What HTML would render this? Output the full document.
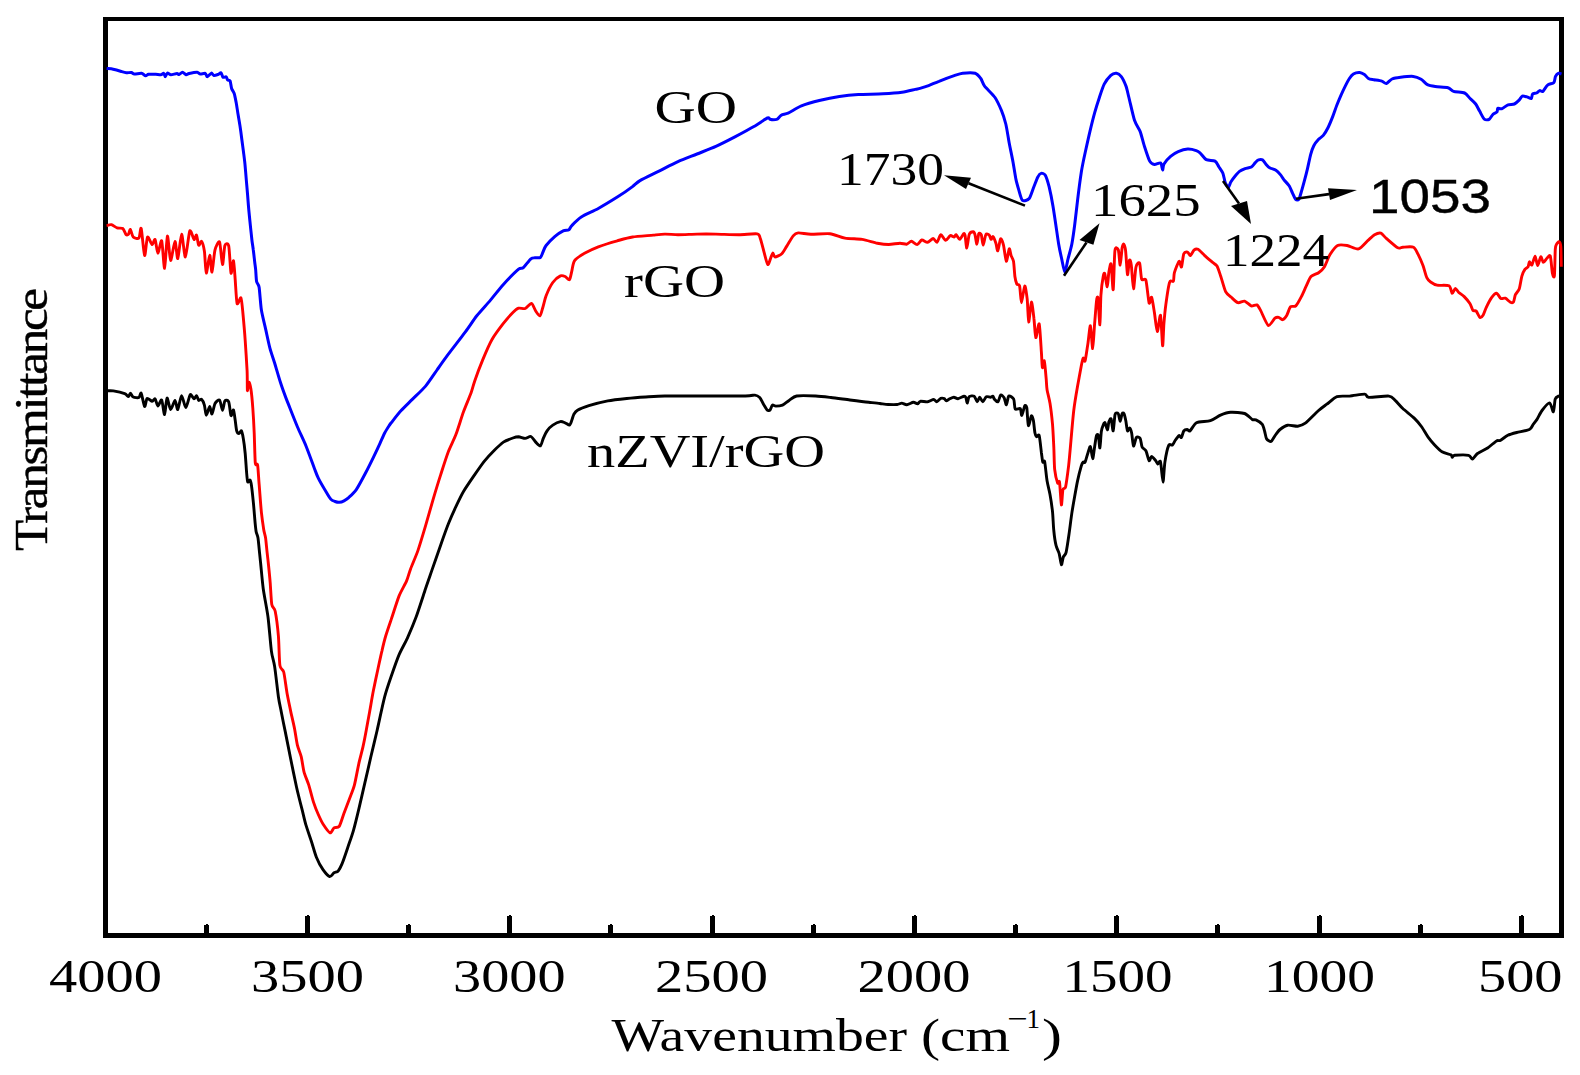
<!DOCTYPE html>
<html lang="en"><head><meta charset="utf-8"><title>FTIR spectra</title>
<style>html,body{margin:0;padding:0;background:#fff}svg{display:block}text{font-family:"Liberation Serif",serif;fill:#000}.s{font-family:"Liberation Sans",sans-serif}</style></head><body>
<svg width="1580" height="1075" viewBox="0 0 1580 1075">
<rect width="1580" height="1075" fill="#fff"/>
<g shape-rendering="crispEdges" fill="#000">
<rect x="103" y="17" width="1461" height="4"/>
<rect x="103" y="933" width="1461" height="5"/>
<rect x="103" y="17" width="5" height="921"/>
<rect x="1559" y="17" width="5" height="921"/>
<rect x="305" y="916" width="5" height="18"/><rect x="306.5" y="915" width="2" height="1"/>
<rect x="507" y="916" width="5" height="18"/><rect x="508.5" y="915" width="2" height="1"/>
<rect x="710" y="916" width="5" height="18"/><rect x="711.5" y="915" width="2" height="1"/>
<rect x="912" y="916" width="5" height="18"/><rect x="913.5" y="915" width="2" height="1"/>
<rect x="1114" y="916" width="5" height="18"/><rect x="1115.5" y="915" width="2" height="1"/>
<rect x="1317" y="916" width="5" height="18"/><rect x="1318.5" y="915" width="2" height="1"/>
<rect x="1519" y="916" width="5" height="18"/><rect x="1520.5" y="915" width="2" height="1"/>
<rect x="204" y="925" width="5" height="9"/><rect x="205.5" y="924" width="2" height="1"/>
<rect x="406" y="925" width="5" height="9"/><rect x="407.5" y="924" width="2" height="1"/>
<rect x="608" y="925" width="5" height="9"/><rect x="609.5" y="924" width="2" height="1"/>
<rect x="811" y="925" width="5" height="9"/><rect x="812.5" y="924" width="2" height="1"/>
<rect x="1013" y="925" width="5" height="9"/><rect x="1014.5" y="924" width="2" height="1"/>
<rect x="1215" y="925" width="5" height="9"/><rect x="1216.5" y="924" width="2" height="1"/>
<rect x="1418" y="925" width="5" height="9"/><rect x="1419.5" y="924" width="2" height="1"/>
</g>
<path d="M106.6,390.8C107.4,390.8 111.0,390.5 113.3,390.9C115.6,391.3 122.8,393.0 124.7,393.7C126.6,394.4 127.8,396.7 128.5,396.6C129.2,396.5 129.8,393.1 130.4,393.2C131.0,393.2 132.1,396.5 133.2,397.0C134.3,397.5 137.9,398.0 138.9,397.5C139.9,397.0 140.5,392.1 141.2,393.2C141.9,394.3 143.9,405.8 144.6,406.5C145.3,407.2 146.2,399.1 147.1,398.5C148.0,397.9 151.2,401.2 152.2,401.3C153.2,401.4 154.4,398.3 155.1,398.9C155.8,399.5 157.1,406.0 157.9,406.1C158.7,406.2 160.9,398.9 161.7,400.0C162.5,401.1 163.9,414.8 164.6,414.6C165.3,414.4 166.2,398.7 167.0,398.1C167.8,397.5 169.6,409.2 170.6,409.5C171.6,409.8 174.1,400.4 175.0,400.4C175.9,400.4 177.0,410.1 177.8,409.5C178.6,408.9 180.6,395.8 181.6,395.6C182.6,395.4 184.7,407.7 185.8,407.6C186.9,407.5 189.2,395.8 190.2,394.7C191.2,393.6 193.2,398.8 194.0,398.9C194.8,399.0 195.9,395.4 196.5,395.6C197.1,395.8 198.1,399.9 198.7,400.4C199.3,400.9 200.9,398.8 201.6,399.4C202.3,400.0 203.8,403.1 204.4,405.1C205.0,407.1 205.6,415.0 206.3,415.2C207.0,415.4 209.0,406.6 209.7,406.5C210.4,406.4 211.3,414.3 212.0,414.0C212.7,413.7 214.0,405.6 214.9,403.8C215.8,402.1 218.7,399.2 219.6,400.0C220.5,400.8 221.8,410.2 222.5,410.3C223.2,410.4 224.1,401.9 224.9,400.8C225.7,399.8 227.9,400.0 228.7,401.9C229.5,403.8 230.4,414.6 231.0,415.6C231.6,416.6 233.0,409.3 233.5,409.9C234.0,410.5 234.8,417.7 235.2,420.3C235.6,422.9 236.2,429.1 236.7,430.8C237.2,432.5 238.4,433.6 239.0,433.6C239.6,433.6 240.9,430.2 241.4,430.8C241.9,431.4 242.8,435.6 243.3,438.4C243.8,441.2 244.8,449.2 245.2,453.5C245.6,457.8 246.3,468.9 246.6,472.5C246.9,476.1 247.3,481.1 247.7,482.0C248.1,482.9 249.5,479.6 250.0,480.1C250.5,480.6 251.1,483.0 251.5,485.8C251.9,488.6 253.0,498.9 253.4,502.9C253.8,506.9 254.4,514.5 254.7,518.1C255.0,521.7 255.7,528.9 256.1,531.4C256.5,533.9 257.6,535.4 258.0,538.0C258.4,540.6 259.2,549.3 259.5,552.3C259.8,555.3 260.0,557.5 260.5,562.0C261.0,566.5 262.3,581.6 263.2,588.5C264.1,595.4 267.0,609.2 268.0,617.0C269.0,624.8 270.6,644.9 271.4,651.1C272.2,657.3 273.7,660.6 274.6,666.3C275.5,672.0 277.6,691.0 278.4,696.7C279.2,702.4 280.5,707.6 281.3,711.9C282.1,716.2 283.9,725.1 285.1,730.9C286.3,736.7 289.2,751.5 290.6,758.5C292.0,765.5 295.1,780.6 296.5,787.0C297.9,793.4 300.9,805.0 302.1,809.7C303.3,814.4 304.7,820.9 305.9,824.9C307.1,828.9 310.3,838.0 311.6,842.0C312.9,846.0 315.0,853.8 316.4,857.2C317.8,860.7 321.3,867.2 323.0,869.6C324.7,872.0 328.3,876.2 329.7,876.6C331.1,877.0 332.9,873.5 334.0,872.8C335.1,872.1 337.2,872.0 338.2,870.9C339.2,869.8 340.8,866.8 342.0,863.9C343.2,861.0 346.3,851.9 347.7,847.7C349.1,843.5 352.0,835.6 353.4,830.6C354.8,825.6 357.7,813.7 359.1,807.8C360.5,801.9 363.3,789.6 364.8,783.2C366.3,776.9 369.3,763.6 370.8,757.0C372.3,750.4 375.4,738.0 377.1,730.5C378.8,723.0 382.9,703.5 384.7,696.7C386.5,689.9 389.6,681.0 391.4,675.8C393.2,670.6 397.0,659.6 399.0,654.9C401.0,650.1 405.4,642.5 407.5,637.8C409.6,633.1 413.8,623.2 416.1,617.0C418.4,610.8 423.6,594.5 425.6,588.5C427.6,582.5 430.3,574.9 432.2,569.4C434.1,563.9 438.8,550.4 440.8,544.7C442.8,539.0 446.5,528.5 448.4,523.8C450.3,519.0 454.0,510.7 455.9,506.7C457.8,502.7 461.1,495.5 463.5,491.5C465.9,487.5 472.3,478.2 474.9,474.4C477.5,470.6 482.0,464.1 484.4,461.1C486.8,458.1 491.5,453.1 493.9,450.7C496.3,448.3 501.0,443.7 503.4,442.1C505.8,440.5 511.0,438.7 512.9,438.0C514.8,437.3 517.1,436.8 518.6,436.8C520.1,436.9 523.7,438.4 525.2,438.4C526.7,438.4 529.6,436.0 530.9,436.5C532.2,437.0 534.5,440.9 535.7,442.1C536.9,443.3 539.5,446.4 540.4,445.9C541.3,445.4 542.5,440.3 543.3,438.4C544.1,436.5 545.9,432.5 547.1,430.8C548.3,429.1 551.1,426.2 552.8,425.1C554.5,424.0 558.9,421.9 560.4,421.6C561.9,421.3 564.0,422.4 565.1,422.8C566.2,423.2 568.7,425.4 569.5,425.1C570.3,424.8 571.3,421.6 571.8,420.3C572.3,419.0 573.0,415.9 573.7,414.6C574.4,413.4 575.6,411.4 577.5,410.3C579.4,409.2 585.1,406.9 588.9,405.7C592.7,404.5 603.1,401.8 607.8,400.9C612.5,400.0 622.0,399.0 626.8,398.5C631.5,398.0 641.0,397.3 645.8,397.0C650.5,396.7 658.3,396.1 664.8,396.0C671.3,395.9 687.9,396.0 698.0,396.0C708.1,396.0 738.3,396.1 745.4,396.0C752.5,395.9 753.1,394.9 754.9,395.1C756.7,395.3 758.6,396.4 759.7,397.5C760.8,398.6 762.5,402.6 763.5,404.2C764.5,405.8 766.5,409.5 767.3,410.2C768.1,410.9 769.5,410.5 770.1,409.9C770.7,409.3 771.7,405.6 772.4,405.1C773.1,404.6 774.5,406.1 775.8,406.1C777.1,406.1 780.8,405.8 782.5,405.1C784.2,404.4 787.3,401.5 789.1,400.4C790.9,399.3 793.4,396.6 796.7,396.0C800.0,395.4 811.4,395.8 815.7,396.0C820.0,396.2 826.6,397.0 830.9,397.5C835.2,398.0 845.2,399.4 849.9,400.0C854.6,400.6 865.0,401.9 868.8,402.3C872.6,402.7 877.6,403.2 880.0,403.5C882.4,403.8 886.0,404.4 888.1,404.5C890.2,404.6 895.5,404.7 897.2,404.5C898.9,404.3 900.6,403.1 901.8,403.1C903.0,403.1 905.3,404.9 906.8,404.8C908.2,404.7 912.1,402.4 913.4,402.3C914.7,402.2 916.6,403.9 917.5,403.8C918.4,403.7 919.2,401.6 920.5,401.3C921.8,401.1 926.0,402.0 927.6,401.8C929.2,401.6 932.6,399.4 933.7,399.4C934.8,399.4 935.8,401.9 936.7,401.8C937.6,401.7 939.8,398.8 940.8,398.4C941.8,398.0 943.6,398.4 944.3,398.7C945.0,399.0 945.6,400.8 946.3,400.8C947.0,400.8 948.9,399.1 949.9,398.7C950.9,398.2 952.9,397.2 953.9,397.2C954.9,397.2 956.7,398.8 958.0,398.7C959.3,398.6 963.1,396.3 964.1,396.2C965.1,396.1 965.5,396.8 965.9,397.7C966.3,398.6 966.9,403.2 967.3,403.1C967.7,403.0 968.2,397.6 969.1,396.7C970.0,395.8 973.2,395.6 974.2,396.2C975.2,396.8 976.5,401.7 977.2,401.8C977.9,401.9 979.0,397.2 979.7,397.2C980.4,397.2 982.0,401.9 982.8,401.8C983.6,401.7 985.3,397.3 986.3,396.7C987.2,396.1 989.6,397.3 990.4,397.2C991.2,397.1 992.4,395.9 992.9,396.2C993.4,396.4 993.8,398.5 994.4,399.2C995.0,399.9 997.2,402.3 998.0,401.8C998.8,401.3 999.9,395.5 1000.7,395.0C1001.5,394.5 1003.4,396.5 1004.1,397.7C1004.8,398.9 1005.8,405.0 1006.4,404.8C1007.0,404.6 1007.9,396.7 1008.8,396.0C1009.7,395.3 1012.9,397.6 1013.7,399.2C1014.5,400.8 1014.4,407.7 1015.2,408.9C1016.0,410.1 1019.5,407.8 1020.3,408.6C1021.1,409.4 1021.2,415.8 1021.8,415.4C1022.4,415.0 1024.2,406.8 1024.8,405.8C1025.4,404.9 1026.3,405.3 1026.8,407.8C1027.2,410.3 1027.8,424.6 1028.4,425.6C1029.0,426.6 1030.8,416.5 1031.4,415.9C1032.0,415.3 1033.0,418.4 1033.4,420.5C1033.8,422.6 1034.5,430.7 1034.9,432.7C1035.3,434.7 1036.0,436.3 1036.5,436.7C1037.0,437.1 1038.6,433.6 1039.2,435.6C1039.8,437.6 1041.0,449.4 1041.4,452.7C1041.9,456.0 1042.4,461.0 1042.8,462.1C1043.2,463.2 1044.2,459.4 1044.7,461.8C1045.2,464.2 1046.4,477.0 1047.1,481.1C1047.8,485.2 1049.3,490.6 1050.0,494.4C1050.7,498.2 1052.0,507.0 1052.5,511.5C1053.0,516.0 1053.3,526.2 1053.8,530.5C1054.2,534.8 1055.4,542.9 1056.1,545.7C1056.8,548.6 1058.4,550.9 1059.1,553.3C1059.8,555.7 1060.9,564.2 1061.4,564.7C1061.9,565.2 1062.7,558.7 1063.3,557.1C1063.9,555.5 1065.4,555.1 1066.1,552.3C1066.8,549.4 1068.3,539.2 1069.0,534.3C1069.7,529.4 1071.1,518.1 1071.8,513.4C1072.5,508.6 1074.0,500.3 1074.7,496.3C1075.4,492.3 1076.7,484.9 1077.5,481.1C1078.3,477.3 1080.6,468.3 1081.3,465.9C1082.0,463.5 1082.7,462.6 1083.2,462.1C1083.7,461.6 1084.5,463.3 1085.1,462.1C1085.7,460.9 1087.3,454.6 1088.0,452.7C1088.7,450.8 1089.8,445.9 1090.4,446.6C1091.0,447.4 1092.2,458.6 1092.7,458.7C1093.2,458.8 1094.1,449.9 1094.6,447.0C1095.1,444.1 1096.0,437.0 1096.5,435.6C1097.0,434.2 1098.0,434.1 1098.4,435.6C1098.8,437.1 1099.5,448.4 1099.9,447.9C1100.3,447.4 1100.9,434.6 1101.3,431.8C1101.7,429.0 1102.7,426.2 1103.2,425.1C1103.7,424.0 1104.5,422.1 1105.0,422.7C1105.5,423.3 1107.0,429.9 1107.5,429.9C1108.0,429.8 1108.3,423.7 1108.8,422.3C1109.2,420.9 1110.5,417.8 1111.1,418.9C1111.6,420.0 1112.7,431.4 1113.2,430.8C1113.7,430.2 1114.5,416.4 1115.1,414.3C1115.7,412.2 1117.7,412.8 1118.3,413.7C1118.9,414.6 1119.7,421.3 1120.2,421.3C1120.7,421.3 1121.6,414.6 1122.1,413.7C1122.6,412.8 1123.5,412.8 1124.0,413.7C1124.5,414.6 1125.5,419.2 1125.9,421.3C1126.3,423.4 1127.0,430.0 1127.5,430.8C1128.0,431.6 1129.2,427.8 1129.7,428.0C1130.2,428.2 1131.1,430.4 1131.6,432.7C1132.1,434.9 1132.9,445.4 1133.5,446.0C1134.1,446.6 1135.6,438.4 1136.4,437.5C1137.2,436.6 1139.5,437.2 1140.2,438.4C1140.9,439.6 1141.4,445.4 1142.1,447.0C1142.8,448.6 1145.0,449.1 1145.9,450.8C1146.8,452.5 1148.4,459.9 1149.1,460.6C1149.8,461.3 1150.8,456.5 1151.6,456.5C1152.4,456.5 1154.6,459.4 1155.4,460.3C1156.2,461.2 1157.2,463.8 1157.8,464.0C1158.4,464.2 1159.8,459.5 1160.5,461.8C1161.2,464.1 1162.5,482.1 1163.0,482.1C1163.5,482.1 1164.2,466.7 1164.9,462.1C1165.6,457.5 1167.8,447.5 1168.7,445.4C1169.6,443.3 1171.6,445.7 1172.4,445.1C1173.2,444.5 1174.5,441.5 1175.3,440.3C1176.1,439.1 1178.3,436.0 1179.1,435.6C1179.9,435.2 1180.8,438.1 1181.4,437.5C1182.0,436.9 1183.1,431.8 1183.8,430.8C1184.5,429.8 1186.3,429.5 1187.1,429.5C1187.9,429.5 1188.9,431.7 1190.1,430.8C1191.3,429.9 1194.0,424.0 1196.5,422.7C1199.0,421.4 1207.4,421.6 1210.4,420.6C1213.4,419.7 1218.0,416.1 1220.5,415.1C1223.0,414.1 1227.6,412.5 1230.6,412.3C1233.6,412.1 1241.9,412.6 1244.6,413.5C1247.3,414.4 1250.8,418.6 1252.2,419.4C1253.6,420.2 1254.6,419.3 1255.9,419.9C1257.2,420.5 1261.2,422.9 1262.3,424.4C1263.4,425.9 1264.3,430.2 1264.8,432.0C1265.3,433.8 1265.8,437.7 1266.6,438.9C1267.4,440.1 1270.1,441.8 1271.1,441.4C1272.1,441.0 1273.8,437.3 1274.9,435.8C1276.0,434.3 1278.4,430.8 1280.0,429.5C1281.6,428.2 1285.4,425.6 1287.6,425.2C1289.8,424.8 1295.5,426.4 1297.7,426.2C1299.9,425.9 1302.8,425.1 1305.3,423.2C1307.8,421.3 1315.3,413.4 1318.0,411.0C1320.7,408.6 1324.4,406.0 1326.8,404.2C1329.2,402.4 1334.2,397.6 1337.0,396.6C1339.8,395.6 1346.1,396.4 1349.6,396.1C1353.1,395.8 1362.4,394.0 1364.8,394.1C1367.2,394.2 1365.6,397.1 1368.6,397.3C1371.6,397.6 1385.6,395.7 1388.9,396.1C1392.2,396.5 1393.5,398.8 1395.2,400.4C1396.9,401.9 1400.4,406.3 1402.8,408.5C1405.2,410.7 1411.8,415.8 1414.2,418.1C1416.6,420.4 1420.1,424.6 1421.8,427.0C1423.5,429.4 1426.5,434.9 1428.1,437.1C1429.7,439.3 1432.7,442.9 1434.4,444.7C1436.1,446.5 1439.9,450.5 1442.0,451.8C1444.1,453.1 1449.6,454.1 1450.9,454.8C1452.2,455.5 1451.7,457.2 1452.2,457.3C1452.7,457.4 1452.7,455.6 1454.7,455.3C1456.8,455.1 1466.4,454.8 1468.6,455.3C1470.8,455.8 1471.3,459.3 1472.4,459.1C1473.5,458.9 1475.6,454.9 1477.5,453.5C1479.4,452.1 1485.2,449.6 1487.6,448.0C1490.0,446.4 1494.9,441.8 1496.5,440.9C1498.1,439.9 1498.9,441.1 1500.3,440.4C1501.7,439.7 1505.8,436.3 1507.8,435.3C1509.8,434.3 1514.0,433.2 1516.7,432.5C1519.4,431.8 1527.3,430.5 1529.4,429.5C1531.5,428.5 1532.2,425.7 1533.2,424.4C1534.2,423.1 1535.9,421.1 1537.0,419.4C1538.1,417.7 1540.4,412.6 1542.0,410.5C1543.6,408.4 1548.2,402.7 1549.6,402.9C1551.0,403.1 1552.7,412.3 1553.4,411.8C1554.1,411.3 1554.6,401.1 1555.2,399.1C1555.8,397.1 1557.8,396.5 1558.5,396.1C1559.2,395.7 1560.7,396.0 1561.0,396.0" fill="none" stroke="#000" stroke-width="2.9" stroke-linejoin="round"/>
<path d="M106.6,225.6C107.2,225.5 110.1,224.4 111.4,224.7C112.7,225.0 115.7,227.4 117.1,227.9C118.5,228.4 121.7,227.7 122.8,228.5C123.9,229.3 125.5,234.0 126.2,234.7C126.9,235.4 128.0,234.9 128.5,234.2C129.0,233.5 129.8,229.1 130.4,229.4C131.0,229.8 132.1,235.9 133.2,237.0C134.3,238.1 137.9,239.1 138.9,238.0C139.9,236.9 140.5,226.3 141.2,228.5C141.9,230.7 143.8,254.3 144.6,255.4C145.4,256.5 146.6,238.3 147.5,237.0C148.4,235.7 151.2,244.3 152.2,244.6C153.1,244.9 154.4,238.4 155.1,239.5C155.8,240.6 157.1,253.0 157.9,253.2C158.7,253.4 160.9,238.9 161.7,240.8C162.5,242.7 163.9,269.0 164.6,268.4C165.3,267.8 166.7,237.1 167.4,236.1C168.2,235.1 169.7,259.7 170.6,260.4C171.5,261.1 174.1,241.6 175.0,241.4C175.9,241.2 177.0,259.4 177.8,258.5C178.6,257.6 180.7,234.4 181.6,234.2C182.5,234.0 184.4,257.4 185.4,257.0C186.4,256.6 188.7,233.2 189.8,231.0C190.9,228.8 193.2,239.0 194.0,239.5C194.8,240.0 195.9,234.4 196.5,235.1C197.1,235.8 198.1,244.4 198.7,245.2C199.3,246.0 200.9,240.6 201.6,241.4C202.3,242.2 203.8,247.3 204.4,251.3C205.0,255.3 205.6,272.6 206.3,273.1C207.0,273.6 209.0,255.2 209.7,255.1C210.4,255.0 211.3,272.7 212.0,272.1C212.7,271.5 214.0,254.1 214.9,250.3C215.8,246.6 218.7,240.3 219.6,242.1C220.5,243.9 221.8,264.2 222.5,264.6C223.2,265.0 224.1,247.9 224.9,245.6C225.7,243.3 227.9,242.5 228.7,245.9C229.5,249.3 230.4,271.2 231.0,273.1C231.6,275.0 233.0,260.0 233.5,260.8C234.0,261.6 234.8,274.4 235.2,279.7C235.6,285.0 236.4,301.2 237.1,303.5C237.8,305.8 240.2,296.7 240.9,297.8C241.6,298.9 242.3,306.7 242.8,312.0C243.3,317.3 244.7,333.1 245.2,340.5C245.7,347.9 246.8,364.6 247.1,370.9C247.4,377.1 247.2,389.1 247.4,390.5C247.6,391.9 248.6,382.5 249.0,382.3C249.4,382.1 250.4,385.8 250.9,389.0C251.4,392.2 252.4,402.5 252.8,408.0C253.2,413.5 253.9,425.8 254.2,432.7C254.5,439.6 254.9,459.0 255.3,463.0C255.7,467.0 257.1,462.3 257.6,464.9C258.1,467.5 258.6,478.0 259.1,483.9C259.6,489.8 260.8,506.7 261.4,512.4C262.0,518.1 263.2,526.3 263.7,529.5C264.2,532.7 265.2,535.1 265.6,538.0C266.0,540.9 266.7,548.9 267.1,552.3C267.5,555.7 268.1,561.2 268.5,565.0C268.9,568.8 269.8,577.8 270.2,582.8C270.6,587.8 271.2,601.0 271.8,604.6C272.4,608.2 274.4,607.4 275.2,611.3C276.0,615.2 277.8,629.1 278.4,635.9C279.0,642.7 279.2,660.9 279.9,665.4C280.6,669.9 282.8,668.6 283.7,672.0C284.6,675.4 286.1,687.9 287.0,692.9C287.9,697.9 289.9,707.4 290.8,711.9C291.8,716.4 293.8,724.8 294.6,729.0C295.4,733.2 296.6,741.8 297.4,745.2C298.2,748.7 300.4,753.3 301.2,756.6C302.0,759.9 303.1,768.2 304.0,771.8C304.9,775.4 307.6,781.3 308.8,785.1C310.0,788.9 312.3,798.4 313.5,802.1C314.7,805.8 317.1,811.8 318.3,814.5C319.5,817.2 321.5,821.7 323.0,824.0C324.5,826.3 328.7,832.4 330.1,832.9C331.5,833.4 332.9,828.6 334.0,827.8C335.1,827.0 338.0,828.2 339.2,826.4C340.4,824.6 342.6,817.0 343.9,813.5C345.2,810.0 348.3,801.9 349.6,798.4C350.9,794.9 353.2,789.6 354.4,785.1C355.6,780.6 358.0,767.0 359.1,762.3C360.2,757.5 362.0,751.1 362.9,747.1C363.8,743.1 365.5,734.4 366.3,730.0C367.1,725.6 368.7,716.8 369.6,711.9C370.5,707.0 372.2,696.5 373.3,691.0C374.4,685.5 377.0,673.2 378.1,668.2C379.2,663.2 380.9,655.1 381.9,651.1C382.8,647.1 384.5,640.0 385.7,636.0C386.9,632.0 389.7,623.9 391.4,618.9C393.1,613.9 397.1,600.9 399.0,596.1C400.9,591.4 405.2,584.2 406.6,580.9C408.0,577.6 409.0,573.2 410.4,569.4C411.8,565.6 416.1,555.9 418.0,550.4C419.9,544.9 423.7,532.1 425.6,525.7C427.5,519.3 431.3,505.5 433.2,499.1C435.1,492.7 438.9,480.3 440.8,474.4C442.7,468.5 446.5,456.6 448.4,451.6C450.3,446.6 454.0,439.6 455.9,434.6C457.8,429.6 461.6,417.0 463.5,411.8C465.4,406.6 469.7,396.7 471.1,392.8C472.5,388.9 473.5,384.4 474.9,380.4C476.3,376.3 480.4,365.5 482.5,360.4C484.6,355.3 489.4,344.1 492.0,339.5C494.6,334.9 500.8,326.8 503.4,323.4C506.0,320.0 511.0,314.4 512.9,312.5C514.8,310.6 517.1,308.7 518.6,308.2C520.1,307.7 523.6,309.1 525.2,308.5C526.8,307.9 530.2,303.1 531.5,303.4C532.8,303.7 534.6,309.4 535.7,311.0C536.8,312.6 539.1,316.3 540.0,315.8C540.9,315.3 542.1,309.7 542.9,307.2C543.7,304.7 544.9,298.9 546.1,295.8C547.3,292.7 551.0,285.0 552.8,282.5C554.6,280.0 558.9,276.6 560.4,275.9C561.9,275.1 564.0,276.0 565.1,276.5C566.2,277.0 568.7,280.4 569.5,279.7C570.3,279.0 571.2,273.5 571.8,271.1C572.4,268.7 573.0,262.9 574.6,260.7C576.2,258.4 582.0,254.8 585.0,253.1C588.0,251.4 594.3,248.3 598.3,246.8C602.3,245.3 613.0,242.0 617.3,240.8C621.6,239.6 628.0,237.7 632.5,237.0C637.0,236.3 649.4,235.5 653.4,235.1C657.4,234.7 661.7,234.2 664.8,234.1C667.9,234.0 674.0,234.7 678.0,234.7C682.0,234.7 692.3,234.2 697.0,234.1C701.7,234.0 710.7,234.0 715.9,234.1C721.1,234.2 733.5,234.7 738.7,234.7C743.9,234.7 754.5,233.4 757.2,233.9C759.9,234.4 759.4,236.2 760.3,238.5C761.2,240.8 763.2,249.1 764.1,252.4C765.0,255.7 766.9,264.0 767.8,264.6C768.6,265.2 770.3,259.0 770.9,257.5C771.5,256.0 772.4,253.0 772.9,252.9C773.4,252.8 773.8,256.9 774.9,257.0C776.0,257.1 780.3,255.1 781.8,253.7C783.3,252.3 785.4,248.3 786.8,246.1C788.2,243.9 791.8,237.6 793.2,235.9C794.6,234.2 796.0,233.1 798.2,232.9C800.4,232.7 806.9,234.2 810.9,234.3C814.9,234.4 825.6,233.2 829.9,233.7C834.2,234.2 841.0,237.4 845.0,238.1C849.0,238.8 858.1,238.8 862.1,239.4C866.1,240.0 874.0,242.6 877.3,243.2C880.6,243.8 885.9,244.5 888.7,244.5C891.5,244.5 897.8,243.2 900.0,243.2C902.2,243.2 905.2,244.4 906.6,244.2C908.0,244.0 910.1,241.2 911.4,241.3C912.7,241.4 915.8,244.8 917.1,244.6C918.4,244.4 920.5,240.3 921.8,240.0C923.1,239.7 926.1,242.5 927.5,242.3C928.9,242.1 932.0,238.5 933.2,238.5C934.4,238.5 936.0,242.8 937.0,242.3C938.0,241.8 939.7,234.9 940.8,234.7C941.9,234.5 944.4,240.3 945.6,240.4C946.8,240.5 949.2,236.0 950.3,235.6C951.4,235.2 953.4,237.1 954.1,237.0C954.8,236.9 955.3,234.4 956.0,234.7C956.7,235.0 958.8,239.5 959.8,239.4C960.8,239.3 962.9,234.2 963.6,233.7C964.3,233.2 964.7,233.8 965.1,235.6C965.5,237.4 966.3,248.2 966.8,248.0C967.3,247.8 968.5,236.3 969.3,234.3C970.1,232.3 972.4,231.8 973.1,231.8C973.8,231.9 974.5,233.1 975.0,234.7C975.5,236.2 976.4,244.3 976.9,244.2C977.4,244.1 978.2,234.9 978.8,233.7C979.3,232.5 980.8,233.3 981.3,234.7C981.8,236.1 982.6,245.1 983.2,245.1C983.8,245.1 985.0,235.9 985.8,234.7C986.5,233.4 988.5,234.5 989.2,235.1C989.9,235.7 990.6,239.2 991.1,239.4C991.6,239.6 992.4,236.1 993.0,236.6C993.6,237.1 995.3,241.4 995.9,243.2C996.5,245.0 997.2,251.3 997.8,250.8C998.4,250.3 999.9,239.6 1000.6,238.9C1001.3,238.2 1002.8,242.3 1003.5,245.1C1004.2,247.9 1005.6,260.8 1006.3,261.3C1007.0,261.8 1008.6,249.6 1009.2,248.9C1009.8,248.2 1010.6,254.0 1011.1,255.6C1011.6,257.1 1013.0,258.7 1013.5,261.3C1014.0,263.9 1014.5,273.7 1014.9,276.5C1015.3,279.3 1016.2,282.8 1016.8,284.0C1017.4,285.2 1019.0,283.6 1019.6,285.9C1020.2,288.2 1020.9,302.7 1021.5,302.7C1022.1,302.7 1024.0,286.3 1024.7,285.9C1025.4,285.5 1026.7,294.7 1027.2,299.2C1027.7,303.7 1028.2,321.6 1028.7,322.0C1029.2,322.4 1030.8,302.6 1031.4,302.1C1032.1,301.6 1033.4,313.8 1033.9,318.2C1034.5,322.6 1035.1,336.9 1035.8,337.6C1036.5,338.3 1038.5,322.0 1039.2,323.9C1039.9,325.8 1041.0,346.9 1041.4,352.4C1041.8,357.9 1042.0,366.5 1042.4,367.6C1042.8,368.7 1043.8,359.5 1044.3,360.9C1044.8,362.3 1045.9,375.4 1046.2,379.0C1046.5,382.6 1046.6,387.0 1047.1,390.0C1047.6,393.0 1049.3,399.0 1050.0,403.3C1050.7,407.6 1052.0,418.7 1052.5,424.2C1053.0,429.7 1053.5,441.3 1053.8,447.0C1054.1,452.7 1054.2,465.2 1054.7,469.7C1055.2,474.2 1057.0,481.4 1057.6,483.0C1058.2,484.6 1059.0,479.4 1059.5,482.1C1060.0,484.8 1061.0,503.9 1061.4,504.9C1061.8,505.8 1062.4,492.0 1062.9,489.7C1063.4,487.4 1064.9,489.8 1065.6,486.8C1066.3,483.8 1067.9,471.6 1068.6,465.9C1069.3,460.2 1070.3,448.2 1070.9,441.3C1071.5,434.4 1072.9,417.8 1073.7,411.0C1074.5,404.2 1076.5,392.3 1077.5,386.6C1078.5,380.9 1080.6,369.3 1081.3,365.7C1082.0,362.1 1082.7,358.7 1083.2,358.1C1083.7,357.5 1084.5,362.8 1085.1,360.9C1085.7,359.0 1087.3,347.3 1088.0,342.9C1088.7,338.5 1089.8,325.1 1090.4,325.8C1091.0,326.5 1092.2,348.8 1092.7,348.6C1093.2,348.4 1094.1,329.8 1094.6,323.9C1095.1,318.0 1096.1,304.3 1096.5,301.1C1096.9,297.9 1097.6,295.3 1098.0,298.3C1098.4,301.3 1099.5,325.3 1099.9,324.9C1100.3,324.5 1100.5,301.4 1100.9,295.4C1101.3,289.3 1102.7,279.2 1103.2,276.5C1103.7,273.8 1104.2,272.3 1104.7,273.6C1105.2,274.9 1106.8,287.0 1107.3,286.9C1107.8,286.8 1108.3,275.5 1108.8,272.7C1109.3,269.9 1110.5,262.0 1111.1,264.1C1111.6,266.2 1112.7,291.4 1113.2,289.7C1113.7,288.0 1114.3,255.8 1114.9,250.8C1115.5,245.8 1117.6,248.1 1118.3,249.9C1119.0,251.7 1119.7,265.3 1120.2,265.1C1120.7,264.9 1121.7,250.6 1122.1,248.0C1122.5,245.4 1123.3,243.8 1123.7,244.2C1124.1,244.5 1125.1,247.0 1125.6,250.8C1126.1,254.6 1127.0,273.4 1127.5,274.6C1128.0,275.8 1128.9,261.5 1129.4,260.3C1129.9,259.1 1130.8,261.5 1131.3,265.1C1131.8,268.7 1132.9,288.6 1133.5,288.8C1134.1,289.0 1135.2,270.2 1136.0,267.0C1136.8,263.8 1138.9,261.7 1139.6,263.2C1140.3,264.7 1140.9,277.2 1141.7,279.3C1142.5,281.4 1145.0,277.2 1145.9,280.2C1146.8,283.2 1148.4,300.9 1149.1,303.0C1149.8,305.1 1150.9,296.1 1151.6,297.3C1152.3,298.5 1153.7,308.2 1154.4,312.5C1155.1,316.8 1156.5,331.1 1157.3,331.5C1158.1,331.9 1159.8,313.6 1160.5,315.4C1161.2,317.2 1162.2,344.6 1162.6,345.7C1163.0,346.8 1163.5,329.0 1163.9,323.9C1164.3,318.8 1165.1,310.1 1165.8,304.9C1166.5,299.7 1168.6,285.2 1169.6,282.2C1170.5,279.2 1172.8,282.4 1173.4,281.2C1174.0,280.0 1173.7,275.2 1174.4,272.7C1175.1,270.2 1178.2,262.0 1179.1,261.3C1180.0,260.6 1180.9,267.9 1181.5,267.0C1182.1,266.1 1183.0,255.6 1183.8,253.7C1184.6,251.8 1186.8,251.9 1187.6,252.1C1188.4,252.3 1189.6,255.9 1190.4,255.6C1191.2,255.3 1193.2,250.7 1194.2,249.9C1195.2,249.1 1196.7,248.6 1198.0,249.3C1199.3,250.0 1202.9,254.0 1204.7,255.6C1206.5,257.2 1210.8,260.9 1212.3,262.2C1213.8,263.5 1215.9,264.2 1217.0,266.0C1218.1,267.8 1219.7,273.3 1220.8,276.5C1221.9,279.7 1224.3,289.0 1225.6,291.6C1226.9,294.2 1229.8,295.9 1231.3,297.3C1232.8,298.7 1236.2,302.2 1237.9,302.7C1239.6,303.2 1242.9,300.7 1244.6,301.1C1246.3,301.5 1249.7,305.4 1251.2,305.9C1252.7,306.4 1255.7,304.3 1256.9,304.9C1258.1,305.5 1259.3,308.0 1260.7,310.6C1262.1,313.2 1266.5,324.4 1268.3,325.4C1270.1,326.3 1273.6,319.2 1274.9,318.2C1276.2,317.2 1277.8,317.1 1278.7,317.3C1279.7,317.5 1281.5,319.9 1282.5,319.7C1283.5,319.5 1285.7,317.0 1286.7,315.4C1287.7,313.8 1289.4,308.0 1290.5,306.8C1291.6,305.6 1294.4,307.2 1295.8,305.9C1297.2,304.6 1300.2,298.9 1301.5,296.4C1302.8,293.9 1305.1,288.4 1306.3,285.9C1307.5,283.4 1309.5,278.1 1311.0,276.5C1312.5,274.9 1316.9,273.9 1318.6,272.7C1320.3,271.5 1322.9,269.3 1324.3,267.0C1325.7,264.7 1328.3,257.3 1330.0,254.6C1331.7,251.9 1335.5,246.6 1337.6,245.5C1339.7,244.4 1344.5,245.1 1347.1,245.5C1349.7,245.9 1355.9,249.5 1358.5,248.9C1361.1,248.3 1366.0,242.2 1368.0,240.4C1370.0,238.6 1373.0,235.6 1374.6,234.7C1376.2,233.8 1379.4,232.7 1380.9,233.2C1382.4,233.7 1384.2,236.6 1386.3,238.4C1388.4,240.2 1395.6,246.7 1397.7,247.8C1399.8,248.9 1400.8,247.3 1402.8,247.2C1404.8,247.1 1411.6,246.3 1413.5,247.2C1415.4,248.1 1416.8,251.9 1418.0,254.2C1419.2,256.5 1421.9,262.7 1423.0,265.6C1424.1,268.5 1425.8,275.6 1426.8,277.6C1427.8,279.7 1429.3,281.1 1430.6,282.0C1431.9,282.9 1434.7,284.7 1437.0,285.2C1439.3,285.7 1447.1,284.8 1449.0,285.8C1450.9,286.8 1451.4,293.1 1452.2,293.4C1453.0,293.7 1454.5,288.5 1455.3,288.4C1456.1,288.2 1457.4,291.2 1458.5,292.2C1459.6,293.2 1462.8,295.2 1464.2,296.6C1465.6,298.0 1468.8,301.8 1469.9,303.5C1471.0,305.2 1472.2,309.6 1473.0,310.5C1473.8,311.4 1475.3,310.2 1476.2,311.1C1477.1,312.0 1479.1,317.0 1480.0,317.5C1480.9,318.0 1482.4,316.2 1483.2,314.9C1484.0,313.6 1485.3,309.4 1486.3,307.3C1487.3,305.2 1490.1,299.6 1491.4,297.8C1492.7,296.0 1495.3,293.1 1496.5,293.2C1497.7,293.3 1499.8,297.9 1500.9,298.5C1502.0,299.1 1504.1,297.7 1505.3,298.2C1506.5,298.7 1509.4,301.8 1510.4,302.3C1511.4,302.8 1512.9,302.9 1513.5,302.0C1514.1,301.1 1514.7,296.3 1515.4,294.7C1516.1,293.1 1518.4,291.3 1519.2,289.0C1520.0,286.7 1521.1,278.8 1521.8,276.3C1522.5,273.9 1524.1,270.6 1524.9,269.4C1525.7,268.2 1527.5,267.8 1528.1,266.8C1528.7,265.9 1528.9,262.0 1529.4,261.8C1529.9,261.6 1531.2,265.6 1531.9,264.9C1532.6,264.2 1534.4,256.0 1535.1,256.1C1535.8,256.2 1536.9,265.5 1537.6,265.6C1538.3,265.7 1540.1,257.1 1540.8,256.7C1541.5,256.3 1542.5,262.2 1543.3,262.4C1544.1,262.6 1546.2,258.8 1547.1,258.0C1548.0,257.2 1549.6,254.2 1550.3,256.1C1551.0,258.0 1551.9,270.8 1552.4,273.2C1552.9,275.6 1554.0,278.7 1554.4,275.7C1554.8,272.7 1555.0,253.0 1555.3,249.1C1555.6,245.2 1556.1,245.0 1556.6,244.1C1557.1,243.2 1558.6,241.5 1559.1,241.8C1559.6,242.1 1560.5,243.5 1560.8,246.6C1561.1,249.7 1561.2,264.3 1561.3,266.8" fill="none" stroke="#f00" stroke-width="2.9" stroke-linejoin="round"/>
<path d="M106.6,68.5C107.4,68.6 111.4,68.8 113.2,69.2C115.0,69.6 119.7,71.0 121.3,71.5C122.9,72.0 125.0,72.7 126.3,72.8C127.6,72.9 130.4,72.3 131.4,72.5C132.4,72.7 133.1,74.0 134.4,74.1C135.7,74.2 140.1,73.1 141.5,73.3C142.9,73.5 144.7,75.7 145.6,75.8C146.5,75.9 147.3,74.5 148.6,74.3C149.9,74.1 154.2,74.2 155.7,74.3C157.2,74.4 159.8,74.9 160.8,74.8C161.8,74.7 163.2,73.0 163.8,73.3C164.4,73.5 164.9,76.8 165.3,76.8C165.7,76.8 166.6,73.3 167.3,73.1C168.0,72.8 169.7,74.8 170.9,74.8C172.1,74.8 176.0,73.5 177.0,73.5C178.0,73.5 178.3,74.7 179.0,74.5C179.7,74.3 181.6,72.3 182.5,72.3C183.4,72.3 185.3,74.6 186.1,74.8C186.9,75.0 187.7,73.8 189.1,73.5C190.5,73.2 195.8,72.2 197.2,72.3C198.6,72.4 199.3,74.0 200.3,74.1C201.3,74.2 204.4,73.0 205.3,73.3C206.2,73.6 206.5,76.8 207.3,76.8C208.1,76.8 210.6,73.3 211.4,73.1C212.2,72.9 213.0,75.3 213.9,75.5C214.8,75.7 217.6,74.6 218.5,74.3C219.4,74.0 220.4,72.4 221.0,72.8C221.6,73.2 222.4,76.8 223.0,77.3C223.6,77.8 225.5,76.5 226.1,76.8C226.7,77.1 227.1,79.4 227.6,79.9C228.1,80.4 229.6,79.8 230.1,80.9C230.6,82.0 231.1,86.9 231.6,88.5C232.1,90.1 233.6,91.7 234.2,93.5C234.8,95.3 235.7,100.1 236.2,102.7C236.7,105.3 237.5,111.1 238.0,114.0C238.5,116.9 239.5,122.8 240.0,126.0C240.5,129.2 241.4,135.9 241.8,139.2C242.2,142.4 243.1,148.8 243.5,152.0C243.9,155.2 244.7,161.1 245.0,164.6C245.3,168.1 246.0,176.2 246.3,180.0C246.6,183.8 247.3,191.0 247.6,195.0C247.9,199.0 248.6,207.9 249.0,212.0C249.4,216.1 250.2,224.3 250.6,227.8C251.0,231.3 251.6,237.2 251.9,240.0C252.2,242.8 253.0,247.2 253.3,250.0C253.7,252.8 254.4,259.5 254.7,262.0C255.0,264.5 255.5,267.6 255.7,270.0C255.9,272.4 256.2,279.4 256.6,281.6C257.0,283.8 258.5,283.7 259.1,287.3C259.7,290.9 260.6,305.1 261.4,310.1C262.2,315.1 264.1,322.4 265.2,327.2C266.3,331.9 268.7,343.6 269.9,348.1C271.1,352.6 273.4,359.0 274.7,363.3C276.0,367.6 279.0,377.9 280.4,382.3C281.8,386.7 284.9,395.2 286.1,398.4C287.3,401.6 288.5,404.4 289.9,408.0C291.3,411.6 295.5,422.2 297.5,427.0C299.5,431.8 303.9,440.8 306.0,446.0C308.1,451.2 313.0,464.7 314.5,468.7C316.0,472.7 316.9,475.3 318.3,478.2C319.7,481.1 324.3,488.9 325.9,491.5C327.4,494.1 329.6,497.9 330.7,499.1C331.8,500.4 333.9,501.1 335.0,501.5C336.1,501.9 338.1,502.4 339.2,502.3C340.3,502.2 342.8,501.4 344.0,500.8C345.2,500.2 347.2,499.0 348.7,497.6C350.2,496.2 354.2,492.7 356.3,489.6C358.4,486.5 363.7,476.5 365.8,472.5C367.9,468.5 371.6,461.0 373.4,457.3C375.2,453.6 378.7,446.2 380.1,443.1C381.5,440.0 383.6,434.9 384.8,432.7C386.0,430.4 388.6,426.5 389.5,425.1C390.4,423.7 391.0,423.1 392.4,421.3C393.8,419.5 398.4,413.5 400.9,410.8C403.4,408.1 409.2,402.5 412.3,399.4C415.4,396.3 422.5,389.8 425.6,386.1C428.7,382.4 434.4,373.7 437.0,370.0C439.6,366.3 442.9,361.4 446.5,356.6C450.1,351.8 461.6,337.0 465.4,331.9C469.2,326.8 473.7,319.7 476.8,315.8C479.9,311.9 486.8,304.5 490.1,300.6C493.4,296.7 499.8,288.3 503.4,284.4C507.0,280.5 516.1,271.3 518.6,269.2C521.1,267.1 521.8,269.0 523.3,267.7C524.8,266.4 529.4,260.0 530.9,258.8C532.4,257.6 533.8,258.0 535.0,257.8C536.2,257.6 539.4,258.2 540.4,257.5C541.4,256.8 542.3,253.5 543.0,252.0C543.7,250.5 544.6,247.4 546.1,245.5C547.6,243.6 552.6,238.4 554.7,236.6C556.8,234.8 561.4,231.8 563.2,230.9C565.0,230.0 567.8,230.4 568.9,229.7C570.0,229.0 570.2,227.2 571.8,225.6C573.3,224.0 578.0,219.1 581.3,217.0C584.6,214.9 593.8,211.0 598.3,208.5C602.8,206.0 613.0,199.8 617.3,197.1C621.6,194.4 629.7,188.7 632.5,186.6C635.3,184.5 636.7,182.5 640.0,180.6C643.3,178.7 654.2,173.5 659.0,171.1C663.8,168.7 673.2,163.7 678.0,161.6C682.8,159.5 692.3,155.9 697.0,154.0C701.7,152.1 711.2,148.5 715.9,146.4C720.6,144.3 730.1,139.4 734.9,136.9C739.6,134.4 749.8,128.9 753.9,126.5C758.0,124.1 765.6,118.8 767.6,117.9C769.6,117.0 769.3,119.0 770.0,119.2C770.7,119.4 772.0,119.8 772.9,119.8C773.8,119.8 776.0,119.8 777.1,119.2C778.2,118.6 780.0,115.8 781.4,115.1C782.8,114.3 785.6,114.3 788.1,113.2C790.6,112.1 797.4,107.5 801.4,105.9C805.4,104.3 815.6,101.5 820.4,100.3C825.1,99.1 834.7,97.2 839.4,96.5C844.1,95.8 852.8,94.9 858.3,94.6C863.8,94.3 877.5,94.1 883.0,93.8C888.5,93.5 898.0,92.8 902.0,92.3C906.0,91.8 913.0,89.9 915.3,89.4C917.5,88.9 918.3,88.9 920.0,88.4C921.7,87.9 926.2,86.5 928.6,85.6C931.0,84.7 935.8,82.5 939.0,81.3C942.2,80.0 951.2,76.6 954.2,75.6C957.2,74.6 960.1,73.5 962.7,73.2C965.3,72.9 972.8,72.5 975.1,73.2C977.4,73.9 979.6,76.9 980.8,78.5C982.0,80.1 982.8,83.7 984.6,86.1C986.4,88.5 992.9,94.4 995.0,97.5C997.1,100.6 1000.2,107.5 1001.6,110.8C1003.0,114.1 1004.8,120.0 1005.8,124.0C1006.8,128.0 1008.3,138.2 1009.2,143.0C1010.1,147.8 1012.2,157.5 1013.0,162.0C1013.8,166.5 1015.2,175.7 1015.9,179.1C1016.6,182.5 1017.9,186.9 1018.7,189.6C1019.5,192.3 1021.2,199.3 1022.5,200.4C1023.8,201.5 1027.8,200.2 1029.2,198.5C1030.6,196.8 1032.8,189.4 1033.9,186.7C1035.0,184.0 1036.8,178.9 1037.7,177.2C1038.6,175.5 1040.1,173.6 1041.1,173.4C1042.0,173.2 1044.3,173.6 1045.3,175.3C1046.3,177.0 1048.1,182.9 1049.1,186.7C1050.0,190.5 1052.1,200.9 1052.9,205.7C1053.7,210.4 1055.1,219.9 1055.8,224.7C1056.5,229.4 1057.9,239.5 1058.6,243.7C1059.3,247.9 1060.7,254.5 1061.5,258.0C1062.3,261.5 1064.0,271.9 1064.8,272.0C1065.6,272.1 1067.1,262.5 1068.0,259.0C1068.9,255.5 1071.1,248.0 1071.9,243.7C1072.7,239.4 1074.0,230.2 1074.7,224.7C1075.4,219.2 1076.8,206.7 1077.6,200.0C1078.4,193.3 1080.5,177.4 1081.4,171.5C1082.4,165.6 1084.1,157.5 1085.2,152.5C1086.3,147.5 1088.7,136.6 1089.9,131.6C1091.1,126.6 1093.5,117.0 1094.7,112.7C1095.9,108.4 1098.2,101.1 1099.4,97.5C1100.6,93.9 1102.8,87.0 1104.2,84.2C1105.6,81.4 1109.3,76.7 1110.8,75.3C1112.3,73.9 1115.2,73.0 1116.5,73.2C1117.8,73.4 1120.1,75.0 1121.3,76.6C1122.5,78.2 1125.0,83.5 1126.0,86.1C1127.0,88.7 1127.8,93.2 1128.9,97.5C1130.0,101.8 1133.1,116.0 1134.5,120.3C1135.9,124.6 1139.0,128.5 1140.2,131.6C1141.4,134.7 1142.8,141.2 1144.0,144.9C1145.2,148.6 1148.4,158.7 1149.7,161.1C1151.0,163.5 1153.1,164.3 1154.5,164.5C1155.9,164.7 1159.7,162.3 1160.7,163.0C1161.7,163.7 1162.2,169.9 1162.6,170.0C1163.0,170.1 1163.0,165.6 1164.0,163.9C1165.0,162.2 1168.8,157.8 1170.6,156.3C1172.4,154.8 1176.1,152.5 1178.2,151.6C1180.3,150.7 1185.5,149.2 1187.7,149.1C1190.0,149.0 1194.7,150.1 1196.2,150.6C1197.7,151.1 1198.7,151.7 1200.0,152.8C1201.3,153.9 1204.4,158.6 1206.3,159.6C1208.2,160.6 1213.4,160.2 1215.0,161.1C1216.6,162.0 1218.0,165.5 1219.0,167.0C1220.0,168.5 1222.1,171.3 1222.9,173.3C1223.7,175.3 1224.6,181.1 1225.3,182.8C1226.0,184.5 1227.8,187.3 1228.5,187.2C1229.2,187.1 1230.0,183.3 1230.8,182.0C1231.6,180.7 1233.7,177.8 1234.8,176.5C1235.9,175.2 1238.2,172.4 1239.5,171.4C1240.8,170.4 1243.6,169.2 1245.1,168.6C1246.6,168.0 1250.1,167.8 1251.4,167.0C1252.7,166.2 1254.4,163.5 1255.3,162.6C1256.2,161.7 1257.6,160.2 1258.5,159.9C1259.4,159.6 1261.6,159.4 1262.5,159.9C1263.4,160.4 1264.7,162.8 1265.6,163.8C1266.5,164.8 1268.3,167.0 1269.6,167.8C1270.9,168.6 1274.5,169.3 1275.9,170.2C1277.3,171.1 1279.6,173.7 1280.6,174.9C1281.6,176.1 1282.7,178.2 1283.8,179.6C1284.9,181.0 1288.2,184.3 1289.3,186.0C1290.4,187.7 1291.7,191.4 1292.5,193.1C1293.3,194.8 1294.9,198.6 1295.7,199.4C1296.5,200.2 1298.1,200.3 1298.8,199.4C1299.5,198.5 1300.5,194.6 1301.2,192.3C1301.9,190.0 1303.5,184.2 1304.3,181.2C1305.1,178.2 1306.7,172.0 1307.5,168.6C1308.3,165.2 1309.9,157.2 1310.7,154.3C1311.5,151.4 1312.8,147.6 1313.8,145.7C1314.8,143.8 1317.4,140.6 1318.6,139.3C1319.8,138.0 1322.1,136.9 1323.3,135.4C1324.5,133.9 1326.9,129.9 1328.1,127.5C1329.3,125.1 1331.7,119.2 1332.8,116.4C1333.9,113.6 1335.8,107.9 1336.8,105.3C1337.8,102.7 1339.6,98.3 1340.7,95.8C1341.8,93.3 1344.4,87.8 1345.5,85.6C1346.6,83.4 1348.4,80.0 1349.4,78.5C1350.4,77.0 1352.1,74.8 1353.4,74.0C1354.7,73.2 1358.3,72.4 1359.7,72.5C1361.1,72.6 1363.3,73.8 1364.4,74.5C1365.5,75.2 1367.2,77.8 1368.4,78.5C1369.6,79.2 1372.2,79.4 1373.9,79.7C1375.6,80.0 1380.2,80.6 1381.8,81.1C1383.4,81.6 1385.1,83.8 1386.4,83.5C1387.7,83.2 1390.2,79.8 1392.0,79.0C1393.8,78.2 1397.9,77.5 1400.6,77.2C1403.2,76.9 1410.6,76.2 1413.2,76.4C1415.8,76.7 1419.3,78.2 1421.1,79.2C1422.9,80.2 1425.6,83.8 1427.4,84.7C1429.2,85.6 1432.7,86.2 1435.3,86.6C1437.9,87.0 1445.7,87.1 1448.0,87.7C1450.3,88.3 1451.4,90.7 1453.5,91.4C1455.6,92.1 1462.5,92.1 1464.6,93.0C1466.7,93.9 1468.7,97.1 1470.1,98.5C1471.5,99.9 1474.5,102.4 1475.7,104.0C1476.9,105.6 1478.5,109.2 1479.6,111.1C1480.7,113.0 1483.1,118.1 1484.3,119.1C1485.5,120.1 1488.0,120.0 1489.1,119.4C1490.2,118.8 1492.0,115.2 1493.0,114.3C1494.0,113.4 1496.4,112.7 1497.0,111.9C1497.6,111.2 1497.2,108.7 1497.8,108.3C1498.4,107.9 1500.4,109.2 1501.7,108.8C1503.0,108.4 1506.5,105.4 1508.1,104.8C1509.7,104.2 1513.0,104.6 1514.4,104.0C1515.8,103.4 1518.1,101.1 1519.1,100.1C1520.1,99.1 1521.3,96.5 1522.3,96.1C1523.3,95.7 1525.9,96.6 1527.0,96.9C1528.1,97.2 1530.6,98.8 1531.3,98.5C1532.0,98.2 1531.9,94.8 1532.6,94.1C1533.2,93.4 1535.6,93.4 1536.5,93.0C1537.4,92.6 1538.9,90.8 1539.7,90.6C1540.5,90.4 1541.8,92.1 1542.8,91.4C1543.8,90.7 1546.2,86.2 1547.6,85.1C1549.0,84.0 1552.9,83.5 1553.9,82.4C1554.9,81.3 1554.9,77.6 1555.5,76.4C1556.1,75.2 1558.0,73.5 1558.7,73.2C1559.5,72.9 1561.2,73.9 1561.5,74.0" fill="none" stroke="#00f" stroke-width="3" stroke-linejoin="round"/>
<text x="49.0" y="992.0" font-size="46.5" textLength="113.0" lengthAdjust="spacingAndGlyphs">4000</text>
<text x="251.0" y="992.0" font-size="46.5" textLength="113.0" lengthAdjust="spacingAndGlyphs">3500</text>
<text x="453.0" y="992.0" font-size="46.5" textLength="112.5" lengthAdjust="spacingAndGlyphs">3000</text>
<text x="655.0" y="992.0" font-size="46.5" textLength="113.0" lengthAdjust="spacingAndGlyphs">2500</text>
<text x="857.5" y="992.0" font-size="46.5" textLength="113.0" lengthAdjust="spacingAndGlyphs">2000</text>
<text x="1062.5" y="992.0" font-size="46.5" textLength="110.0" lengthAdjust="spacingAndGlyphs">1500</text>
<text x="1264.0" y="992.0" font-size="46.5" textLength="111.0" lengthAdjust="spacingAndGlyphs">1000</text>
<text x="1478.0" y="992.0" font-size="46.5" textLength="84.5" lengthAdjust="spacingAndGlyphs">500</text>
<text x="654.5" y="122.8" font-size="46.5" textLength="82.5" lengthAdjust="spacingAndGlyphs">GO</text>
<text x="624.0" y="296.5" font-size="46.5" textLength="101.0" lengthAdjust="spacingAndGlyphs">rGO</text>
<text x="587.0" y="466.5" font-size="46.5" textLength="238.0" lengthAdjust="spacingAndGlyphs">nZVI/rGO</text>
<text x="837.0" y="185.3" font-size="46.5" textLength="107.0" lengthAdjust="spacingAndGlyphs">1730</text>
<text x="1091.0" y="216.0" font-size="46.5" textLength="109.5" lengthAdjust="spacingAndGlyphs">1625</text>
<text x="1223.0" y="265.7" font-size="46.5" textLength="106.0" lengthAdjust="spacingAndGlyphs">1224</text>
<text class="s" x="1369.0" y="213.0" font-size="47.5" textLength="122.0" lengthAdjust="spacingAndGlyphs" stroke="#000" stroke-width="0.35">1053</text>
<text x="611.5" y="1051.3" font-size="46.5" textLength="295.5" lengthAdjust="spacingAndGlyphs">Wavenumber</text>
<text x="921.0" y="1051.3" font-size="46.5" textLength="89.0" lengthAdjust="spacingAndGlyphs">(cm</text>
<text x="1007.5" y="1027.8" font-size="28" textLength="20.5" lengthAdjust="spacingAndGlyphs">−</text>
<text x="1026.5" y="1027.8" font-size="28" textLength="13.5" lengthAdjust="spacingAndGlyphs">1</text>
<text x="1042.0" y="1051.3" font-size="46.5" textLength="20.0" lengthAdjust="spacingAndGlyphs">)</text>
<text transform="translate(47.4,551) rotate(-90) scale(1.1,1)" font-size="46.5" textLength="239.1" lengthAdjust="spacing" stroke="#000" stroke-width="0.4">Transmittance</text>
<line x1="1025" y1="205.6" x2="968.5" y2="183.3" stroke="#000" stroke-width="2.6"/><polygon points="944,175.2 971,177.7 966,189" fill="#000"/>
<line x1="1064" y1="275.7" x2="1086.5" y2="242.4" stroke="#000" stroke-width="2.6"/><polygon points="1099.5,223.3 1079.5,240 1093.4,244.8" fill="#000"/>
<line x1="1223" y1="181" x2="1239.0" y2="203.5" stroke="#000" stroke-width="2.6"/><polygon points="1251,224 1231,206 1247,201" fill="#000"/>
<line x1="1296" y1="198.8" x2="1329.0" y2="194.1" stroke="#000" stroke-width="2.6"/><polygon points="1357,189.9 1328,188.3 1330,199.9" fill="#000"/>
</svg></body></html>
